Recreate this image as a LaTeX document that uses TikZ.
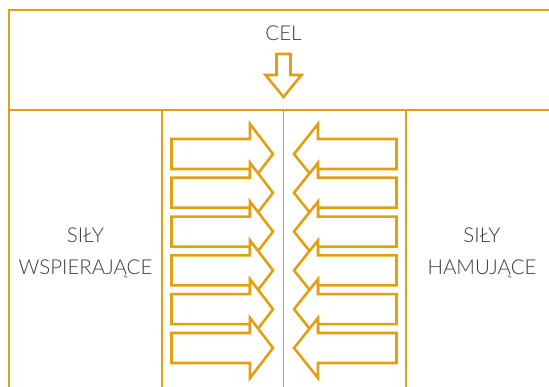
\documentclass[tikz,border=0pt]{standalone}
\usepackage{fontspec}
\setmainfont{Lato}[UprightFont={* Light}]
\usepackage{tikz}
\usetikzlibrary{positioning}
\definecolor{forcegold}{HTML}{E0A012}
\definecolor{labelgray}{HTML}{3C3C3C}
\tikzset{grid/.style={draw=forcegold,line width=1.3pt},
  blockarrow/.style={draw=forcegold,line width=2.6pt,fill=white,line join=miter},
  lbl/.style={text=labelgray,font=\fontsize{20.5}{32}\selectfont,align=center,inner sep=0pt}}

\begin{document}
\begin{tikzpicture}[x=1pt,y=-1pt]
\useasboundingbox (0,0) rectangle (549,387);
\clip (0,0) rectangle (549,387);
%table
\draw[grid] (9,400) -- (9,10) -- (570,10);
\draw[grid] (9,110) -- (570,110);
\draw[grid] (162,110) -- (162,400);
\draw[grid] (283.5,110) -- (283.5,400);
\draw[grid] (406,110) -- (406,400);

%goal
\node[lbl] (cel) at (283.5,33) {CEL};
\draw[blockarrow] (276.5,54) -- (290.5,54) -- (290.5,75) -- (301.5,75) -- (283.5,97)
  -- (265.5,75) -- (276.5,75) -- cycle;

%forces
\foreach \i in {0,...,5} {
\pgfmathsetmacro{\cy}{154+38.8*\i}
\draw[blockarrow] (171.5,\cy-15) -- (250,\cy-15) -- (250,\cy-30) -- (273,\cy)
  -- (250,\cy+30) -- (250,\cy+15) -- (171.5,\cy+15) -- cycle;
\draw[blockarrow] (396.5,\cy-15) -- (318,\cy-15) -- (318,\cy-30) -- (294,\cy)
  -- (318,\cy+30) -- (318,\cy+15) -- (396.5,\cy+15) -- cycle;
}

\node[lbl] (wspier) at (85.5,253) {SIŁY\\WSPIERAJĄCE};
\node[lbl] (hamuj) at (482,253) {SIŁY\\HAMUJĄCE};
\end{tikzpicture}
\end{document}
